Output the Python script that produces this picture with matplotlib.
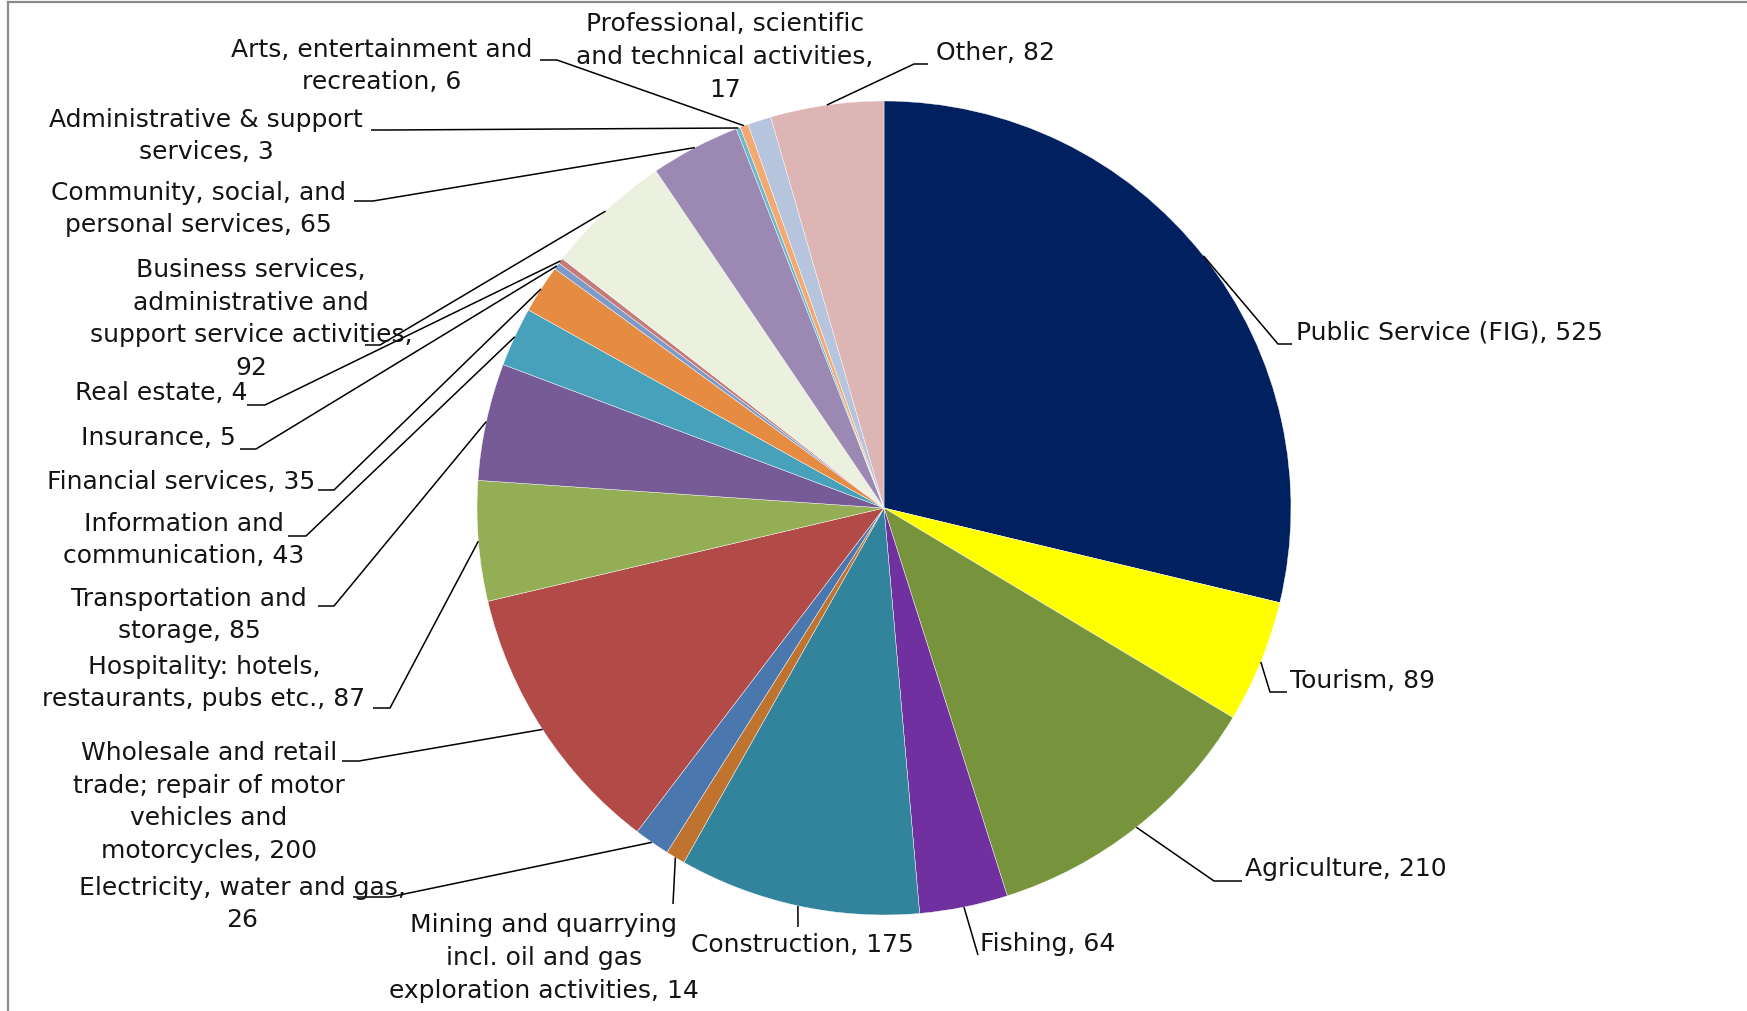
import matplotlib
matplotlib.use("Agg")
import matplotlib.pyplot as plt
import numpy as np

# ------------------------------------------------------------------ #
# Data: employment by sector
# ------------------------------------------------------------------ #
sectors = [
    "Public Service (FIG)", "Tourism", "Agriculture", "Fishing", "Construction",
    "Mining and quarrying incl. oil and gas exploration activities",
    "Electricity, water and gas",
    "Wholesale and retail trade; repair of motor vehicles and motorcycles",
    "Hospitality: hotels, restaurants, pubs etc.", "Transportation and storage",
    "Information and communication", "Financial services", "Insurance",
    "Real estate", "Business services, administrative and support service activities",
    "Community, social, and personal services", "Administrative & support services",
    "Arts, entertainment and recreation",
    "Professional, scientific and technical activities", "Other",
]
counts = [525, 89, 210, 64, 175, 14, 26, 200, 87, 85, 43, 35, 5, 4, 92, 65, 3, 6, 17, 82]

# label text with the line breaks used on the chart; {v} is the count
label_tpl = [
    "Public Service (FIG), {v}", "Tourism, {v}", "Agriculture, {v}", "Fishing, {v}",
    "Construction, {v}",
    "Mining and quarrying\nincl. oil and gas\nexploration activities, {v}",
    "Electricity, water and gas,\n{v}",
    "Wholesale and retail\ntrade; repair of motor\nvehicles and\nmotorcycles, {v}",
    "Hospitality: hotels,\nrestaurants, pubs etc., {v}",
    "Transportation and\nstorage, {v}",
    "Information and\ncommunication, {v}",
    "Financial services, {v}", "Insurance, {v}", "Real estate, {v}",
    "Business services,\nadministrative and\nsupport service activities,\n{v}",
    "Community, social, and\npersonal services, {v}",
    "Administrative & support\nservices, {v}",
    "Arts, entertainment and\nrecreation, {v}",
    "Professional, scientific\nand technical activities,\n{v}",
    "Other, {v}",
]

colors = [
    "#002060", "#FFFF00", "#77933C", "#7030A0", "#31849B", "#C0722F", "#4A78AE",
    "#B24A48", "#93AE54", "#775B96", "#48A1BA", "#E68C42", "#7E9BC8", "#C47B7A",
    "#EBF1DE", "#9C89B3", "#6CB8CC", "#F5A972", "#B7C4DE", "#DDB5B5",
]

# ------------------------------------------------------------------ #
# Layout (pixel coords, y down): text anchor, alignment, leader bend
# bend = None -> no leader; stub = horizontal run from bend toward text
# ------------------------------------------------------------------ #
W, H = 1747, 1012
CX, CY, R = 884, 509, 407

layout = [
    # (tx, ty, ha, bend_x, bend_y, stub)
    (1296, 332, "left", 1278, 345, 14),
    (1290, 681, "left", 1270, 693, 17),
    (1245, 869, "left", 1214, 882, 28),
    (980, 944, "left", 978, 956, 0),
    (802, 945, "center", 798, 928, 0),
    (544, 958, "center", 673, 905, 0),
    (242, 904, "center", 390, 898, -37),
    (209, 802, "center", 359, 762, -17),
    (204, 683, "center", 390, 709, -17),
    (189, 615, "center", 334, 607, -16),
    (184, 540, "center", 306, 537, -18),
    (315, 482, "right", 334, 491, -16),
    (236, 438, "right", 256, 450, -16),
    (247, 393, "right", 265, 406, -18),
    (251, 319, "center", 380, 346, -15),
    (198, 209, "center", 373, 202, -19),
    (206, 136, "center", 390, 131, -19),
    (382, 66, "center", 557, 61, -17),
    (725, 57, "center", None, None, 0),
    (936, 53, "left", 914, 65, 14),
]

plt.rcParams["font.family"] = ["DejaVu Sans"]

fig = plt.figure(figsize=(W / 100, H / 100), dpi=100)
ax = fig.add_axes([0, 0, 1, 1])

# y axis runs downward, so start at data angle 270 (screen top) and go
# counterclockwise in data, which reads clockwise on screen
wedges, _ = ax.pie(counts, colors=colors, startangle=270, counterclock=True,
                   center=(CX, CY), radius=R,
                   wedgeprops=dict(edgecolor="white", linewidth=0.3))
ax.set_xlim(0, W)
ax.set_ylim(H, 0)
ax.set_aspect("equal")
ax.axis("off")

total = sum(counts)
cum = np.cumsum([0] + counts)
for i, (v, tpl) in enumerate(zip(counts, label_tpl)):
    tx, ty, ha, bx, by, stub = layout[i]
    ax.text(tx, ty, tpl.format(v=v), ha=ha, va="center", fontsize=18,
            color="#141414", linespacing=1.45, multialignment="center")
    if bx is None:
        continue
    mid = (cum[i] + v / 2) / total * 2 * np.pi
    ex = CX + R * np.sin(mid)
    ey = CY - R * np.cos(mid)
    xs = [ex, bx]
    ys = [ey, by]
    if stub:
        xs.append(bx + stub)
        ys.append(by)
    ax.plot(xs, ys, color="black", linewidth=1.1, solid_capstyle="butt")

# chart-area frame (top and left edges fall inside the canvas)
ax.plot([8, W], [3, 3], color="#8c8c8c", linewidth=1.6)
ax.plot([8, 8], [3, H], color="#8c8c8c", linewidth=1.6)

fig.savefig("out.png", dpi=100)
